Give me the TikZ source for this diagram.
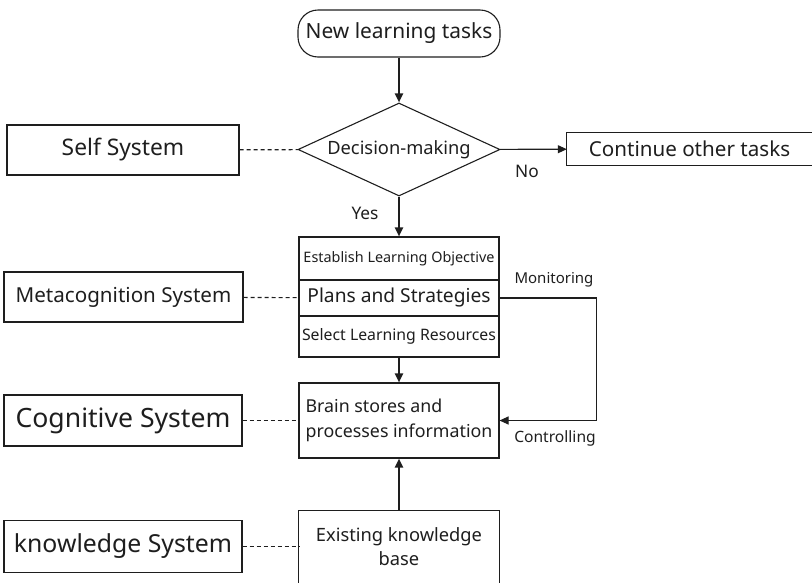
\documentclass[tikz,border=0pt]{standalone}
\usepackage{fontspec}
\setmainfont{Noto Sans}
\usetikzlibrary{arrows.meta,shapes.geometric}
\definecolor{ink}{HTML}{1E1E1E}
\newcommand{\fs}[1]{\fontsize{#1}{#1}\selectfont}
\begin{document}
\begin{tikzpicture}[x=1pt,y=-1pt,
  every node/.style={text=ink},
  box/.style={draw=ink, line width=1.1pt, inner sep=0pt, anchor=center},
  sysbox/.style={box, minimum width=#1, minimum height=50pt},
  flow/.style={draw=ink, line width=2pt, -{Triangle[length=9pt,width=8pt]}},
  thinflow/.style={draw=ink, line width=1.1pt, -{Triangle[length=9pt,width=8pt]}},
  link/.style={draw=ink, line width=1.1pt, dash pattern=on 4pt off 3pt},
  lbl/.style={inner sep=0pt}
]
\useasboundingbox (0,0) rectangle (812,582);

% main column
\node[box, rounded corners=20pt, minimum width=202pt, minimum height=47pt,
      font=\fs{20.9}] (start) at (399,33.5) {New learning tasks};
\node[box, diamond, shape aspect=2.17, minimum width=202pt, minimum height=93pt,
      font=\fs{18.3}] (dec) at (399,149.5) {Decision-making};
\node[box, minimum width=200pt, minimum height=43pt,
      font=\fs{14.4}] (obj) at (399,258.5) {Establish Learning Objective};
\node[box, minimum width=200pt, minimum height=36pt,
      font=\fs{19.2}] (plans) at (399,298) {Plans and Strategies};
\node[box, minimum width=200pt, minimum height=41pt,
      font=\fs{15.8}] (res) at (399,336.5) {Select Learning Resources};
\node[box, minimum width=200pt, minimum height=75pt, align=left,
      font=\fontsize{17.8}{25}\selectfont] (brain) at (399,420.5)
      {Brain stores and\\processes information};
\node[inner sep=0pt, minimum width=200pt, minimum height=73pt, align=center,
      font=\fontsize{18.3}{24}\selectfont, anchor=center] (exist) at (399,547)
      {Existing knowledge\\base};
\draw[ink, line width=1.1pt] (exist.south west) -- (exist.north west)
      -- (exist.north east) -- (exist.south east);

% side branch
\node[inner sep=0pt, minimum width=245pt, minimum height=32pt,
      font=\fs{20.6}, anchor=center] (cont) at (689.5,149) {Continue other tasks};
\draw[ink, line width=1.1pt] (cont.north east) -- (cont.north west)
      -- (cont.south west) -- (cont.south east);

% systems
\node[sysbox=232pt, font=\fs{22.8}] (self) at (123,150) {Self System};
\node[sysbox=239pt, font=\fs{20.6}] (meta) at (123.5,297) {Metacognition System};
\node[sysbox=238pt, minimum height=51pt, font=\fs{26.6}] (cog) at (123,420.5) {Cognitive System};
\node[sysbox=238pt, minimum height=52pt, font=\fs{24.8}] (know) at (123,546.5) {knowledge System};

% connectors
\draw[flow] (start) -- (dec);
\draw[flow] (dec) -- (obj);
\draw[thinflow] (dec) -- (cont);
\draw[flow] (res) -- (brain);
\draw[flow] (exist.north) -- (brain);
\draw[thinflow] (plans.east) -- ++(97,0) |- (brain.east);

\draw[link] (self) -- (dec);
\draw[link] (meta) -- (plans);
\draw[link] (cog) -- (brain);
\draw[link] (know.east) -- (exist.west |- know.east);

% labels
\node[lbl, font=\fs{17.3}] (yes) at (365,213) {Yes};
\node[lbl, font=\fs{17.3}] (no) at (527,171) {No};
\node[lbl, font=\fs{15}] (mon) at (554,280) {Monitoring};
\node[lbl, font=\fs{15.6}] (ctl) at (555,438) {Controlling};
\end{tikzpicture}
\end{document}
